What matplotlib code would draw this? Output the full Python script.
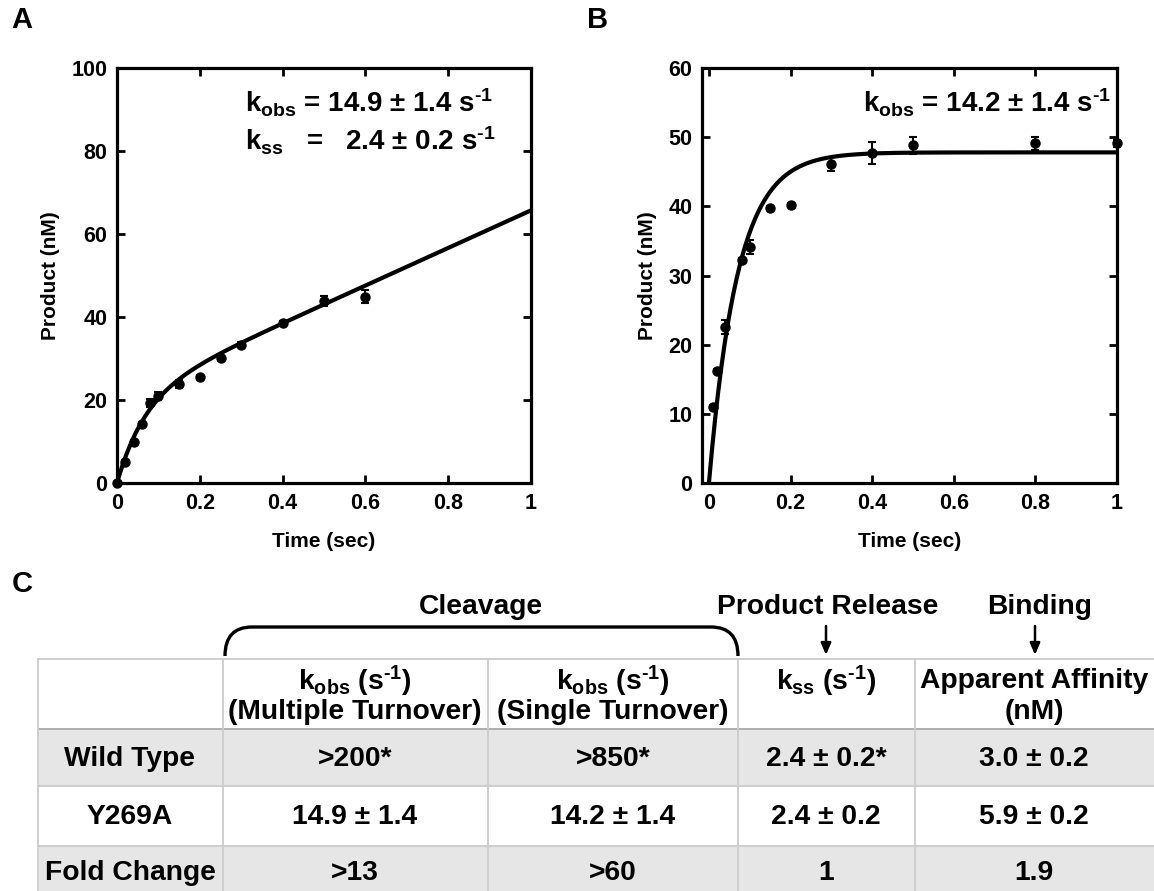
import numpy as np
import matplotlib
matplotlib.use('Agg')
import matplotlib.pyplot as plt
from matplotlib.path import Path
from matplotlib.patches import PathPatch, Rectangle
from matplotlib.ticker import FuncFormatter

plt.rcParams['font.family'] = ['Liberation Sans', 'DejaVu Sans']
plt.rcParams['font.weight'] = 'bold'
plt.rcParams['axes.labelweight'] = 'bold'
plt.rcParams['mathtext.fontset'] = 'custom'
plt.rcParams['mathtext.rm'] = 'Liberation Sans:bold'
plt.rcParams['mathtext.it'] = 'Liberation Sans:bold'
plt.rcParams['mathtext.bf'] = 'Liberation Sans:bold'
plt.rcParams['mathtext.default'] = 'bf'

# panel A: multiple turnover
tA = [0, 0.02, 0.04, 0.06, 0.08, 0.1, 0.15, 0.2, 0.25, 0.3, 0.4, 0.5, 0.6]
yA = [0, 5.1, 9.9, 14.2, 19.3, 21.0, 23.9, 25.5, 30.1, 33.3, 38.6, 43.9, 44.9]
eA = [0.3, 0.5, 0.5, 0.5, 1.0, 1.0, 1.0, 0.5, 0.6, 0.6, 0.5, 1.2, 1.6]
# burst fit parameters
kobsA = 14.9
ampA = 20.4
slopeA = 45.3

# panel B: single turnover
tB = [0.01, 0.02, 0.04, 0.08, 0.1, 0.15, 0.2, 0.3, 0.4, 0.5, 0.8, 1.0]
yB = [11.0, 16.2, 22.6, 32.2, 34.1, 39.8, 40.2, 46.1, 47.7, 48.8, 49.1, 49.1]
eB = [0.3, 0.3, 1.0, 0.4, 1.0, 0.3, 0.3, 1.0, 1.6, 1.2, 0.9, 0.5]
kobsB = 14.2
ampB = 47.8

# panel C table
row_labels = ['Wild Type', 'Y269A', 'Fold Change']
col_multi = ['>200*', '14.9 ± 1.4', '>13']
col_single = ['>850*', '14.2 ± 1.4', '>60']
col_kss = ['2.4 ± 0.2*', '2.4 ± 0.2', '1']
col_aff = ['3.0 ± 0.2', '5.9 ± 0.2', '1.9']

W, H = 1154, 891
fig = plt.figure(figsize=(W / 100, H / 100), dpi=100)


def fmt(v, pos):
    return '%g' % round(v, 2)


def style(ax):
    for s in ax.spines.values():
        s.set_linewidth(2.3)
    ax.tick_params(direction='in', length=6, width=2, top=True, right=True,
                   labelsize=15.5, pad=7)
    ax.xaxis.set_major_formatter(FuncFormatter(fmt))
    ax.set_xlabel('Time (sec)', fontsize=15, labelpad=13)
    ax.set_ylabel('Product (nM)', fontsize=15, labelpad=8)


def pbox(l, r, t, b):
    return [l / W, 1 - b / H, (r - l) / W, (b - t) / H]


tt = np.linspace(0, 1, 400)
hy = '\u2010'

axA = fig.add_axes(pbox(117, 531, 68, 483))
axA.plot(tt, ampA * (1 - np.exp(-kobsA * tt)) + slopeA * tt, color='black', lw=3)
axA.errorbar(tA, yA, yerr=eA, fmt='o', color='black', ms=6.5, capsize=3,
             elinewidth=1.5, capthick=1.5, clip_on=False, zorder=3)
axA.set_xlim(0, 1)
axA.set_ylim(0, 100)
axA.set_xticks(np.arange(0, 1.01, 0.2))
axA.set_yticks(np.arange(0, 101, 20))
style(axA)
axA.text(0.31, 0.915, 'k$_{obs}$ = 14.9 ± 1.4 s$^{' + hy + '1}$', transform=axA.transAxes,
         fontsize=20, ha='left', va='center')
axA.text(0.31, 0.825, 'k$_{ss}$   =   2.4 ± 0.2 s$^{' + hy + '1}$', transform=axA.transAxes,
         fontsize=20, ha='left', va='center')

axB = fig.add_axes(pbox(702, 1117, 68, 483))
axB.plot(tt, ampB * (1 - np.exp(-kobsB * tt)), color='black', lw=3)
axB.errorbar(tB, yB, yerr=eB, fmt='o', color='black', ms=6.5, capsize=3,
             elinewidth=1.5, capthick=1.5, clip_on=False, zorder=3)
axB.set_xlim(-0.017, 1)
axB.set_ylim(0, 60)
axB.set_xticks(np.arange(0, 1.01, 0.2))
axB.set_yticks(np.arange(0, 61, 10))
style(axB)
axB.text(0.985, 0.915, 'k$_{obs}$ = 14.2 ± 1.4 s$^{' + hy + '1}$', transform=axB.transAxes,
         fontsize=20, ha='right', va='center')

# overlay in pixel coordinates for labels and table
ov = fig.add_axes([0, 0, 1, 1])
ov.set_xlim(0, W)
ov.set_ylim(H, 0)
ov.axis('off')

for lab, x, y in [('A', 22, 20), ('B', 598, 20), ('C', 22, 584)]:
    ov.text(x, y, lab, fontsize=21, ha='center', va='center')

cols = [38, 223, 488, 738, 915, 1154]
rows = [659, 729, 786, 846, 891]
for i in (1, 3):
    ov.add_patch(Rectangle((cols[0], rows[i]), cols[-1] - cols[0], rows[i + 1] - rows[i],
                           facecolor='#e6e6e6', edgecolor='none', zorder=0))
for y in rows[:-1]:
    ov.plot([cols[0], cols[-1]], [y, y], color='#a8a8a8' if y == 729 else '#cccccc',
            lw=1.3, zorder=1)
for x in cols[:-1]:
    ov.plot([x, x], [rows[0], rows[-1]], color='#cccccc', lw=1.3, zorder=1)

# bracket and arrows
verts = [(225, 656), (225, 627), (252, 627), (711, 627), (738, 627), (738, 656)]
codes = [Path.MOVETO, Path.CURVE3, Path.CURVE3, Path.LINETO, Path.CURVE3, Path.CURVE3]
ov.add_patch(PathPatch(Path(verts, codes), facecolor='none', edgecolor='black', lw=2.4))
for x in (826, 1035):
    ov.annotate('', xy=(x, 655), xytext=(x, 626),
                arrowprops=dict(arrowstyle='-|>,head_length=0.7,head_width=0.3',
                                color='black', lw=1.8, shrinkA=0, shrinkB=0))

fs = 20.3
ov.text(481, 607, 'Cleavage', fontsize=fs, ha='center', va='center')
ov.text(828, 607, 'Product Release', fontsize=fs, ha='center', va='center')
ov.text(1040, 607, 'Binding', fontsize=fs, ha='center', va='center')

centers = [130, 355, 613, 826, 1034]
sup = '(s$^{' + hy + '1}$)'
ov.text(centers[1], 681, 'k$_{obs}$ ' + sup, fontsize=fs, ha='center', va='center')
ov.text(centers[1], 712, '(Multiple Turnover)', fontsize=fs, ha='center', va='center')
ov.text(centers[2], 681, 'k$_{obs}$ ' + sup, fontsize=fs, ha='center', va='center')
ov.text(centers[2], 712, '(Single Turnover)', fontsize=fs, ha='center', va='center')
ov.text(centers[3], 681, 'k$_{ss}$ ' + sup, fontsize=fs, ha='center', va='center')
ov.text(centers[4], 681, 'Apparent Affinity', fontsize=fs, ha='center', va='center')
ov.text(centers[4], 712, '(nM)', fontsize=fs, ha='center', va='center')

row_y = [759, 817, 873]
for j, y in enumerate(row_y):
    vals = [row_labels[j], col_multi[j], col_single[j], col_kss[j], col_aff[j]]
    for x, v in zip(centers, vals):
        ov.text(x, y, v, fontsize=fs, ha='center', va='center')

fig.savefig('out.png', dpi=100)
